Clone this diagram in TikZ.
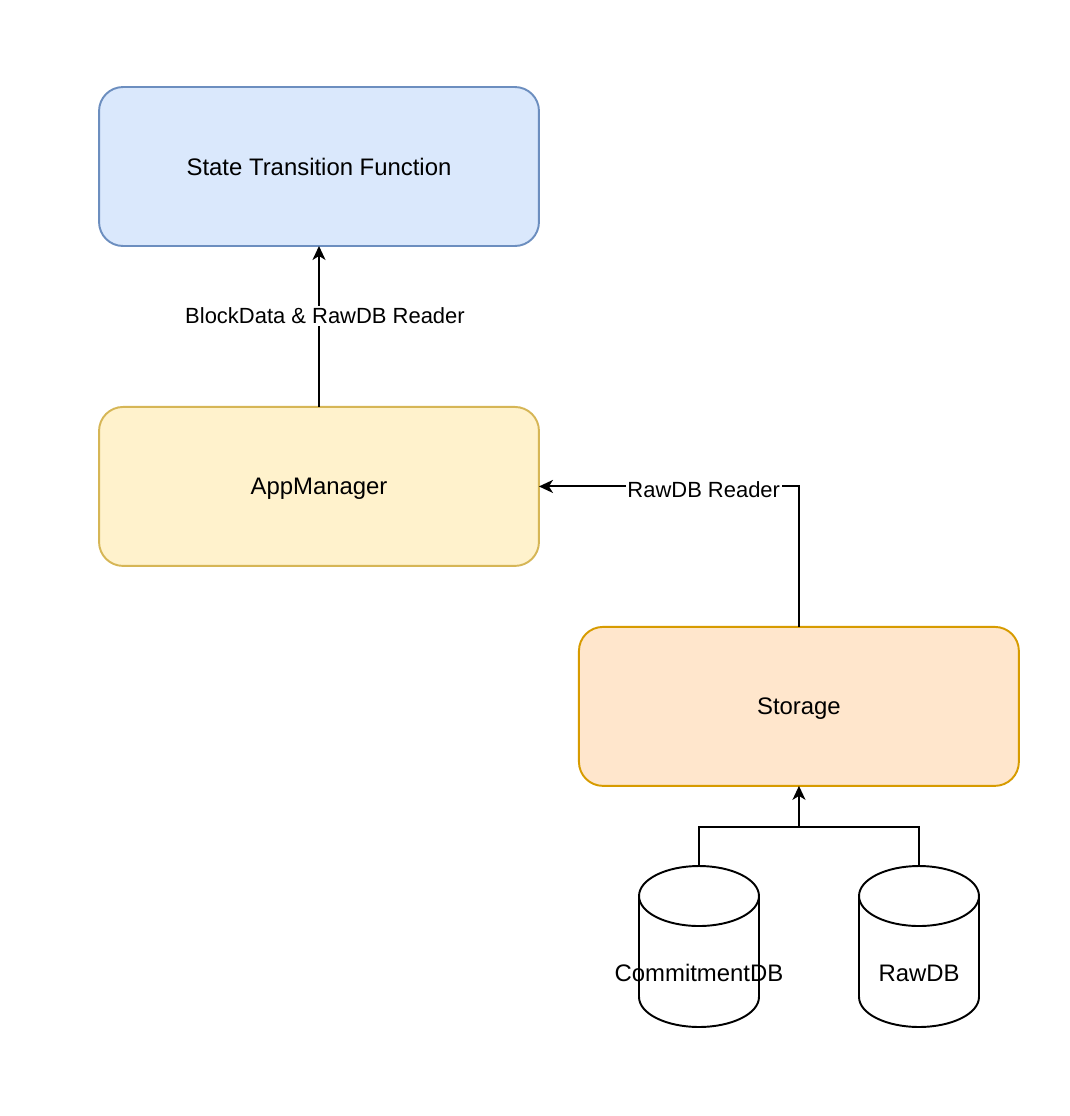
\documentclass[tikz,border=0pt]{standalone}
\usepackage{fontspec}
\setmainfont{Liberation Sans}
\usepackage{xcolor}
\usepackage{tikz}
\usetikzlibrary {positioning}
\usetikzlibrary{arrows.meta}
\definecolor{stffill}{HTML}{DAE8FC}
\definecolor{stfline}{HTML}{6C8EBF}
\definecolor{appfill}{HTML}{FFF2CC}
\definecolor{appline}{HTML}{D6B656}
\definecolor{storefill}{HTML}{FFE6CC}
\definecolor{storeline}{HTML}{D79B00}
\tikzset{edge/.style = {->,> = {Stealth[length=0.28cm,width=0.26cm,inset=0.08cm]},line width=1.1pt}}
\newcommand{\dbshape}[1]{%
  \draw[line width=1.1pt,fill=white] ([yshift=-0.6cm]#1.north west) -- ([yshift=0.6cm]#1.south west)
    arc[start angle=180,end angle=360,x radius=1.2cm,y radius=0.6cm]
    -- ([yshift=-0.6cm]#1.north east)
    arc[start angle=0,end angle=360,x radius=1.2cm,y radius=0.6cm];}

\begin{document}
\begin{tikzpicture}[x=0.02cm,y=-0.02cm,main box/.style={rectangle,draw,rounded corners=0.48cm,line width=1.1pt,outer sep=0pt,minimum width=8.8cm,minimum height=3.18cm,text depth=0pt,font=\fontsize{13.6}{16}\selectfont}, db node/.style={rectangle,minimum width=2.4cm,minimum height=3.22cm,inner sep=0pt,outer sep=0pt}, db text/.style={font=\fontsize{13.6}{16}\selectfont,inner sep=0pt}, edge label/.style={fill=white,inner sep=1pt,font=\fontsize{12.5}{15}\selectfont}]
            \useasboundingbox (0,0) rectangle (1070,1116);
            \node[main box,fill=stffill,draw=stfline] (stf) at (319,166.5) {State Transition Function};
            \node[main box,fill=appfill,draw=appline] (app) [below=3.22cm of stf] {AppManager};
            \node[main box,fill=storefill,draw=storeline] (storage) [below right=1.22cm and 0.8cm of app] {Storage};
            \node[db node] (cdb) at (699,946.5) {};
            \node[db node] (rdb) at (919,946.5) {};
            \dbshape{cdb}
            \dbshape{rdb}
            \node[db text] (cdbtext) at ([yshift=-0.53cm]cdb.center) {CommitmentDB};
            \node[db text] (rdbtext) at ([yshift=-0.53cm]rdb.center) {RawDB};
            \coordinate (merge) at (799,827);
            \draw[edge] (app) -- node[edge label,pos=0.565,xshift=0.12cm] {BlockData \& RawDB Reader} (stf);
            \draw[edge] (storage) |- node[edge label,pos=0.683,yshift=-0.06cm] {RawDB Reader} (app);
            \draw[line width=1.1pt] (cdb.north) |- (merge);
            \draw[line width=1.1pt] (rdb.north) |- (merge);
            \draw[edge] (merge) -- (storage);
        \end{tikzpicture}
\end{document}
